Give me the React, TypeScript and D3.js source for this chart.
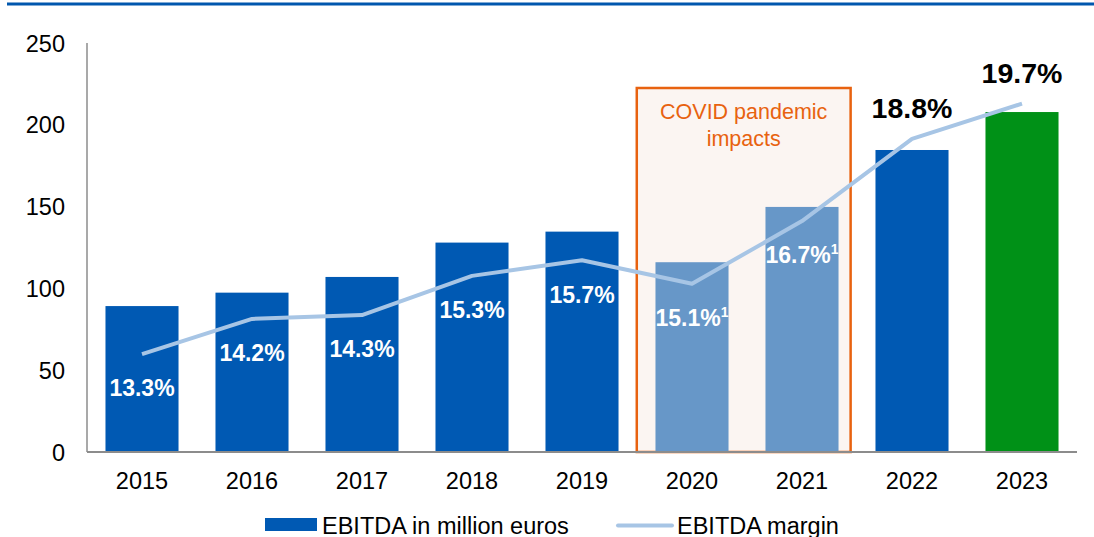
import React from "react";
import * as d3 from "d3";

const years = ["2015", "2016", "2017", "2018", "2019", "2020", "2021", "2022", "2023"];
const ebitda = [89.2, 97.4, 107, 128, 134.7, 116, 149.8, 184.6, 207.8];
const margin = [13.3, 14.2, 14.3, 15.3, 15.7, 15.1, 16.7, 18.8, 19.7];
const marginLabels = ["13.3%", "14.2%", "14.3%", "15.3%", "15.7%", "15.1%", "16.7%", "18.8%", "19.7%"];
const footnoteYears = ["2020", "2021"];
const covidYears = ["2020", "2021"];
const highlightYears = ["2022", "2023"];
const yTicks = [0, 50, 100, 150, 200, 250];
const legendLabels = ["EBITDA in million euros", "EBITDA margin"];
const covidLabel = ["COVID pandemic", "impacts"];

const W = 1094;
const H = 537;
const FONT = "'Liberation Sans', Arial, sans-serif";

const BLUE = "#0059B3";
const LIGHT_BLUE = "#6797C8";
const GREEN = "#009117";
const LINE = "#A7C5E5";
const ORANGE = "#E8620F";

export default function App() {
  const plot = { left: 87, right: 1077, top: 43, bottom: 452 };
  const x = d3.scaleBand<string>().domain(years).range([plot.left, plot.right]).paddingInner(0.336).paddingOuter(0.168);
  const y = d3.scaleLinear().domain([0, 250]).range([plot.bottom, plot.top]);
  const y2 = d3.scaleLinear().domain([10.8, 21.25]).range([plot.bottom, plot.top]);
  const cx = (yr: string) => (x(yr) as number) + x.bandwidth() / 2;

  const lineGen = d3
    .line<number>()
    .x((_, i) => cx(years[i]))
    .y((d) => y2(d));

  const barColor = (yr: string) =>
    yr === "2023" ? GREEN : covidYears.includes(yr) ? LIGHT_BLUE : BLUE;

  const covidX0 = (x(covidYears[0]) as number) - x.step() * 0.17;
  const covidX1 = (x(covidYears[1]) as number) + x.bandwidth() + x.step() * 0.11;

  return (
    <svg
      width={W}
      height={H}
      style={{ position: "absolute", left: 0, top: 0, background: "#fff" }}
      fontFamily={FONT}
    >
      <line x1={7} x2={W} y1={4} y2={4} stroke="#0057AE" strokeWidth={3} />

      {/* COVID box */}
      <rect
        x={covidX0}
        y={88}
        width={covidX1 - covidX0}
        height={plot.bottom - 88}
        fill="#FBF5F2"
        stroke={ORANGE}
        strokeWidth={2.5}
      />
      {covidLabel.map((t, i) => (
        <text
          key={t}
          x={(covidX0 + covidX1) / 2}
          y={119 + i * 27}
          textAnchor="middle"
          fontSize={21.5}
          fill={ORANGE}
        >
          {t}
        </text>
      ))}

      {/* y axis */}
      <line x1={plot.left} x2={plot.left} y1={plot.top} y2={plot.bottom} stroke="#8C8C8C" strokeWidth={1.5} />
      {yTicks.map((t) => (
        <text key={t} x={65} y={y(t) + 8.5} textAnchor="end" fontSize={23.5} fill="#000">
          {t}
        </text>
      ))}

      {/* bars */}
      {years.map((yr, i) => (
        <rect
          key={yr}
          x={x(yr)}
          y={y(ebitda[i])}
          width={x.bandwidth()}
          height={plot.bottom - y(ebitda[i])}
          fill={barColor(yr)}
        />
      ))}

      {/* x axis */}
      <line x1={plot.left} x2={plot.right} y1={plot.bottom} y2={plot.bottom} stroke="#8C8C8C" strokeWidth={2} />
      {years.map((yr) => (
        <text key={yr} x={cx(yr)} y={489} textAnchor="middle" fontSize={23.5} fill="#000">
          {yr}
        </text>
      ))}

      {/* margin line */}
      <path d={lineGen(margin) ?? ""} fill="none" stroke={LINE} strokeWidth={4} strokeLinejoin="round" />

      {/* margin labels */}
      {years.map((yr, i) => {
        const above = highlightYears.includes(yr);
        const py = y2(margin[i]);
        const fs = above ? 28.5 : 23;
        const cy = above ? py - 31 : py + 34;
        return (
          <text
            key={yr}
            x={cx(yr)}
            y={cy + fs * 0.36}
            textAnchor="middle"
            fontSize={fs}
            fontWeight="bold"
            fill={above ? "#000" : "#fff"}
          >
            {marginLabels[i]}
            {footnoteYears.includes(yr) && (
              <tspan fontSize={14} dy={-9}>
                1
              </tspan>
            )}
          </text>
        );
      })}

      {/* legend */}
      <rect x={265} y={518} width={52} height={13} fill={BLUE} />
      <text x={322} y={533.5} fontSize={23.5} fill="#000">
        {legendLabels[0]}
      </text>
      <line x1={618} x2={672} y1={525.5} y2={525.5} stroke={LINE} strokeWidth={4} strokeLinecap="round" />
      <text x={677} y={533.5} fontSize={23.5} fill="#000">
        {legendLabels[1]}
      </text>
    </svg>
  );
}
